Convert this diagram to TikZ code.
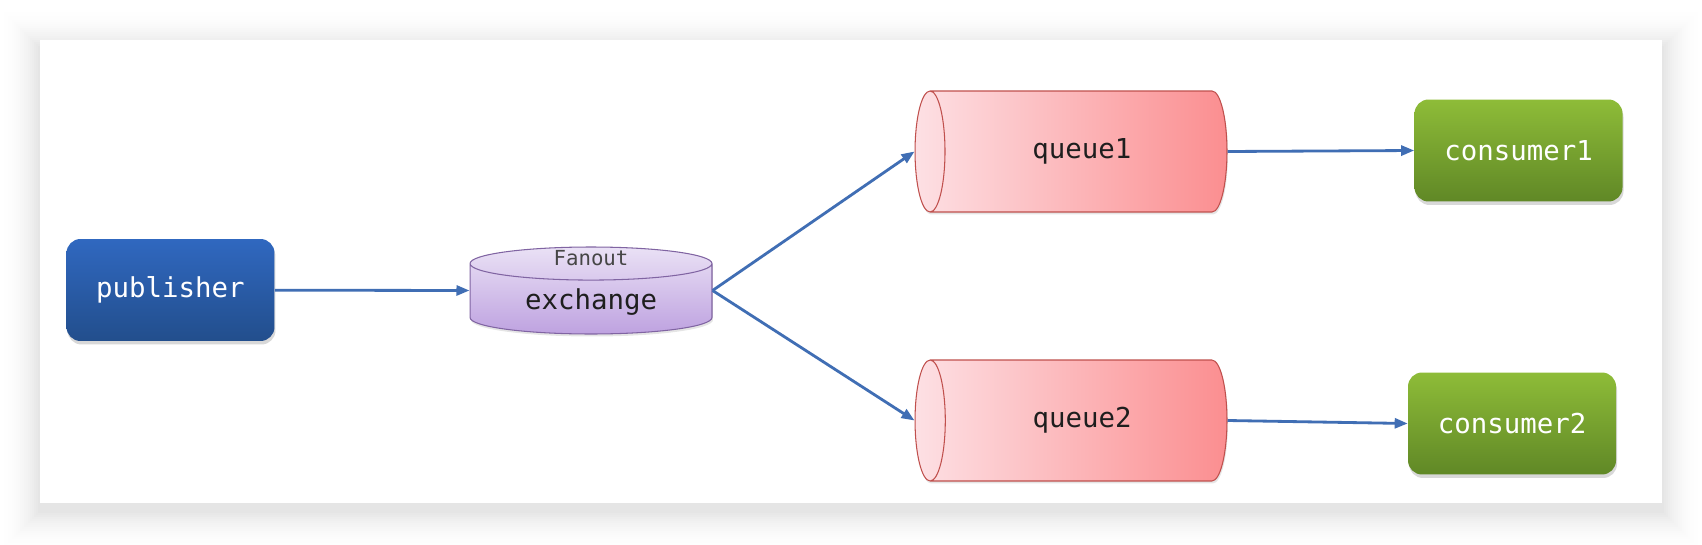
\documentclass[tikz,border=0pt]{standalone}
\usepackage{fontspec}
\setmonofont{DejaVu Sans Mono}
\definecolor{pubtop}{RGB}{48, 104, 192}
\definecolor{pubbot}{RGB}{34, 78, 140}
\definecolor{contop}{RGB}{142, 188, 56}
\definecolor{conbot}{RGB}{96, 136, 38}
\definecolor{qleft}{RGB}{253, 224, 228}
\definecolor{qright}{RGB}{251, 142, 144}
\definecolor{qline}{RGB}{192, 80, 77}
\definecolor{extop}{RGB}{234, 225, 245}
\definecolor{exbot}{RGB}{190, 162, 224}
\definecolor{exline}{RGB}{128, 100, 162}
\definecolor{flowblue}{RGB}{64, 110, 180}
\definecolor{darktext}{RGB}{30, 30, 30}
\definecolor{graytext}{RGB}{70, 70, 70}
\usetikzlibrary{shapes.geometric, arrows.meta, positioning, shadows}

\begin{document}
\begin{tikzpicture}[x=0.02cm, y=-0.02cm,
    box/.style={rounded corners=0.28cm, minimum width=4.16cm, minimum height=2.04cm,
      text=white, font=\ttfamily\fontsize{15.6}{18}\selectfont,
      drop shadow={shadow xshift=0.02cm, shadow yshift=-0.07cm, opacity=0.3}},
    pubbox/.style={box, top color=pubtop, bottom color=pubbot},
    conbox/.style={box, top color=contop, bottom color=conbot},
    queue/.style={cylinder, shape border rotate=180, aspect=0.8, anchor=shape center,
      minimum width=2.42cm, minimum height=6.24cm, draw=qline, line width=0.6pt,
      left color=qleft, right color=qright, text=darktext,
      font=\ttfamily\fontsize{15.6}{18}\selectfont,
      drop shadow={shadow xshift=0.02cm, shadow yshift=-0.05cm, opacity=0.2}},
    exch/.style={cylinder, shape border rotate=90, aspect=0.23, anchor=shape center,
      minimum width=4.84cm, minimum height=1.74cm, draw=exline, line width=0.6pt,
      top color=extop, bottom color=exbot, text=darktext,
      font=\ttfamily\fontsize{15.6}{18}\selectfont,
      drop shadow={shadow xshift=0.02cm, shadow yshift=-0.05cm, opacity=0.2}},
    flow/.style={draw=flowblue, line width=1.6pt, -{Triangle[length=0.26cm, width=0.2cm]}}]
  \useasboundingbox (0, 0) rectangle (1702, 544);
  \foreach \i [evaluate=\i as \p using {10*((21-\i)/20)^2}] in {20,...,1}
    \fill[black!\p] (40-2*\i, 48-2*\i) rectangle (1662+2*\i, 511+2*\i);
  \fill[white] (40, 40) rectangle (1662, 503);

  \node[pubbox] (pub) at (170.5, 290) {publisher};
  \node[exch] (ex) at (591, 290.5) {exchange};
  \node[font=\ttfamily\fontsize{11.8}{14}\selectfont, text=graytext] (fan) at ([yshift=-0.24cm]ex.north) {Fanout};
  \node[queue] (q1) at (1071, 151.5) {queue1};
  \node[queue] (q2) at (1071, 420.5) {queue2};
  \node[conbox] (con1) at (1518.5, 150.5) {consumer1};
  \node[conbox] (con2) at (1512, 423.5) {consumer2};
  \coordinate (exl) at (ex.shape center -| ex.west);
  \coordinate (exr) at (ex.shape center -| ex.east);

  \draw[flow] (pub) -- (exl);
  \draw[flow] (exr) -- (q1.west);
  \draw[flow] (exr) -- (q2.west);
  \draw[flow] (q1.east) -- (con1.west);
  \draw[flow] (q2.east) -- (con2.west);
\end{tikzpicture}
\end{document}
